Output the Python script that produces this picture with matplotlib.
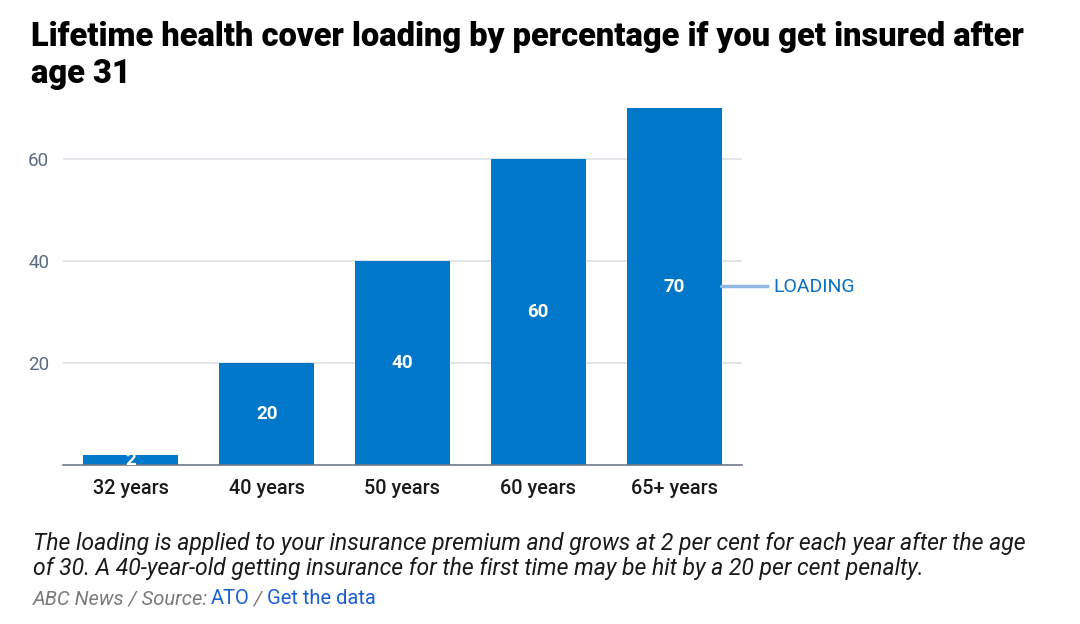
import matplotlib
matplotlib.use("Agg")
import matplotlib.pyplot as plt

# data
categories = ["32 years", "40 years", "50 years", "60 years", "65+ years"]
loading = [2, 20, 40, 60, 70]
y_ticks = [20, 40, 60]
series_name = "LOADING"

bar_color = "#0077c8"
plt.rcParams["font.family"] = ["Roboto", "DejaVu Sans"]

fig = plt.figure(figsize=(10.8, 6.24), dpi=100)
ax = fig.add_axes([63 / 1080, 1 - 465 / 624, (742 - 63) / 1080, (465 - 108) / 624])

x = list(range(len(categories)))
bars = ax.bar(x, loading, width=0.7, color=bar_color, zorder=2)
ax.set_xlim(-0.5, len(categories) - 0.5)
ax.set_ylim(0, 70)

# bar labels in the middle of each bar
for xi, v in zip(x, loading):
    ax.text(xi, v / 2, str(v), ha="center", va="center", color="white",
            fontsize=13.5, fontweight="bold", zorder=3)

# grid and axes
ax.set_yticks(y_ticks)
ax.set_yticklabels([str(t) for t in y_ticks], color="#5a6b82", fontsize=13.5)
ax.yaxis.grid(True, color="#dde2e8", linewidth=1.2, zorder=0)
ax.tick_params(axis="y", length=0, pad=10)
ax.set_xticks(x)
ax.set_xticklabels(categories, fontsize=14.3, fontweight="medium", color="#1a1a1a")
ax.tick_params(axis="x", length=0, pad=10)
for s in ["top", "right", "left"]:
    ax.spines[s].set_visible(False)
ax.spines["bottom"].set_color("#6f7a88")
ax.spines["bottom"].set_linewidth(1.2)

# series label to the right of the last bar
last = len(loading) - 1
ax.annotate(series_name, xy=(last + 0.35, loading[last] / 2), xytext=(37, 0),
            textcoords="offset points", ha="left", va="center", color="#0a6fc2",
            fontsize=14, annotation_clip=False)
ax.annotate("", xy=(last + 0.35, loading[last] / 2), xytext=(last + 0.69, loading[last] / 2),
            arrowprops=dict(arrowstyle="-", color="#90b8e2", lw=2.5,
                            shrinkA=0, shrinkB=0), annotation_clip=False)

# title
fig.text(31 / 1080, 1 - 21 / 624,
         "Lifetime health cover loading by percentage if you get insured after\nage 31",
         ha="left", va="top", fontsize=23.5, fontweight="heavy", color="black",
         linespacing=1.2)

# caption
fig.text(33 / 1080, 1 - 556 / 624,
         "The loading is applied to your insurance premium and grows at 2 per cent for each year after the age\n"
         "of 30. A 40-year-old getting insurance for the first time may be hit by a 20 per cent penalty.",
         ha="left", va="center", fontsize=16.6, style="italic", color="#1a1a1a", linespacing=1.1)

# source line built from pieces
fig.canvas.draw()
renderer = fig.canvas.get_renderer()
pieces = [("ABC News / Source: ", "#7a7a7a", "italic", -3),
          ("ATO", "#1a5fd0", "normal", 0),
          (" / ", "#7a7a7a", "italic", 0),
          ("Get the data", "#1a5fd0", "normal", 0)]
xpos = 33
for txt, col, sty, adj in pieces:
    t = fig.text(xpos / 1080, 1 - 599 / 624, txt, ha="left", va="center",
                 fontsize=14.5, color=col, style=sty)
    bb = t.get_window_extent(renderer=renderer)
    xpos += bb.width + adj

fig.savefig("out.png", dpi=100)
